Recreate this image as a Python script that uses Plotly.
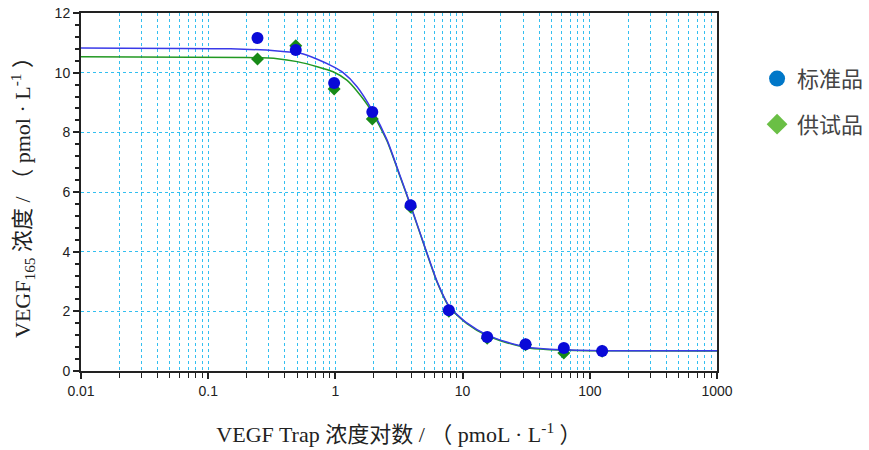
import plotly.graph_objects as go

# Measured data points
conc = [0.244, 0.488, 0.977, 1.95, 3.9, 7.8, 15.6, 31.25, 62.5, 125]
std_vals = [11.16, 10.76, 9.65, 8.68, 5.56, 2.04, 1.14, 0.90, 0.77, 0.67]
test_vals = [10.46, 10.90, 9.45, 8.45, 5.50, 2.00, 1.10, 0.88, 0.60, 0.66]

# Fitted curves
std_curve_x = [0.01, 0.15, 0.35, 0.53, 0.72, 0.96, 1.15, 1.48, 1.94, 2.55, 3.22, 3.9,
               5.25, 6.3, 7.9, 10.8, 15.5, 22.2, 32, 45.6, 100, 1000]
std_curve_y = [10.83, 10.80, 10.73, 10.65, 10.45, 10.2, 10.0, 9.53, 8.75, 7.74, 6.55, 5.56,
               3.95, 3.0, 2.15, 1.61, 1.21, 0.97, 0.80, 0.74, 0.69, 0.68]
test_curve_x = [0.01, 0.2, 0.35, 0.5, 0.72, 0.96, 1.23, 1.48, 1.88, 2.55, 3.22, 3.9,
                5.25, 6.3, 7.9, 10.8, 15.5, 22.2, 32, 45.6, 100, 1000]
test_curve_y = [10.53, 10.51, 10.47, 10.37, 10.2, 10.03, 9.75, 9.38, 8.78, 7.70, 6.52, 5.54,
                3.93, 2.98, 2.13, 1.59, 1.19, 0.95, 0.78, 0.72, 0.68, 0.67]

legend_names = ["标准品", "供试品"]
decades = [0.01, 0.1, 1, 10, 100, 1000]
decade_labels = ["0.01", "0.1", "1", "10", "100", "1000"]

minor_vals = [d * m for d in decades[:-1] for m in range(2, 10)]

fig = go.Figure()
fig.add_trace(go.Scatter(x=test_curve_x, y=test_curve_y, mode="lines",
                         line=dict(color="#229922", width=1.5, shape="spline", smoothing=0.6),
                         showlegend=False, hoverinfo="skip"))
fig.add_trace(go.Scatter(x=std_curve_x, y=std_curve_y, mode="lines",
                         line=dict(color="#3a3ae8", width=1.5, shape="spline", smoothing=0.6),
                         showlegend=False, hoverinfo="skip"))
fig.add_trace(go.Scatter(x=conc, y=test_vals, mode="markers",
                         marker=dict(symbol="diamond", size=10, color="#178a17"),
                         showlegend=False))
fig.add_trace(go.Scatter(x=conc, y=std_vals, mode="markers",
                         marker=dict(symbol="circle", size=12, color="#0a0ad8"),
                         showlegend=False))
# legend entries
fig.add_trace(go.Scatter(x=[None], y=[None], mode="markers", name=legend_names[0],
                         legendgroup="a",
                         marker=dict(symbol="circle", size=16, color="#0077c8")))
fig.add_trace(go.Scatter(x=[None], y=[None], mode="markers", name=legend_names[1],
                         legendgroup="b",
                         marker=dict(symbol="diamond", size=18, color="#6abf45")))

grid_color = "#33bff0"
fig.update_xaxes(type="log", range=[-2, 3], tickvals=decades, ticktext=decade_labels,
                 ticks="outside", ticklen=6, tickcolor="#222", tickwidth=1.5,
                 minor=dict(tickvals=minor_vals, ticks="outside", ticklen=5, tickcolor="#222",
                            tickwidth=1.2, showgrid=True, gridcolor=grid_color, griddash="dot",
                            gridwidth=1),
                 showline=True, linecolor="#222", linewidth=2, mirror=True,
                 showgrid=True, gridcolor=grid_color, griddash="dot", gridwidth=1,
                 tickfont=dict(family="Liberation Sans, Arial", size=14, color="#222"),
                 title=dict(text="VEGF Trap 浓度对数 / （ pmoL · L<sup>-1</sup> ）",
                            font=dict(family="Liberation Serif, Noto Sans CJK SC", size=22, color="#222"),
                            standoff=29),
                 zeroline=False, automargin=False)
fig.update_yaxes(range=[0, 12], dtick=2, ticks="outside", ticklen=6, tickcolor="#222", tickwidth=1.5,
                 minor=dict(dtick=0.4, ticks="outside", ticklen=4, tickcolor="#222", showgrid=False),
                 showline=True, linecolor="#222", linewidth=2, mirror=True,
                 showgrid=True, gridcolor=grid_color, griddash="dot", gridwidth=1,
                 tickfont=dict(family="Liberation Sans, Arial", size=14, color="#222"),
                 title=dict(text="VEGF<sub>165</sub> 浓度 / （ pmol · L<sup>-1</sup> ）",
                            font=dict(family="Liberation Serif, Noto Sans CJK SC", size=22, color="#222"),
                            standoff=18),
                 zeroline=False, automargin=False)

fig.update_layout(
    width=869, height=450,
    margin=dict(l=81, r=152, t=13, b=79, autoexpand=False),
    plot_bgcolor="white", paper_bgcolor="white",
    legend=dict(x=1.063, y=0.875, xanchor="left", yanchor="top",
                font=dict(family="Noto Sans CJK SC", size=22, color="#444"),
                tracegroupgap=14, bgcolor="rgba(0,0,0,0)"),
)

fig.write_html("out.html", config={"displayModeBar": False})

# remove the default page margin so the figure sits at the window origin
with open("out.html", encoding="utf-8") as f:
    html = f.read()
html = html.replace("<head>", "<head><style>html,body{margin:0;padding:0;overflow:hidden;}</style>", 1)
with open("out.html", "w", encoding="utf-8") as f:
    f.write(html)
